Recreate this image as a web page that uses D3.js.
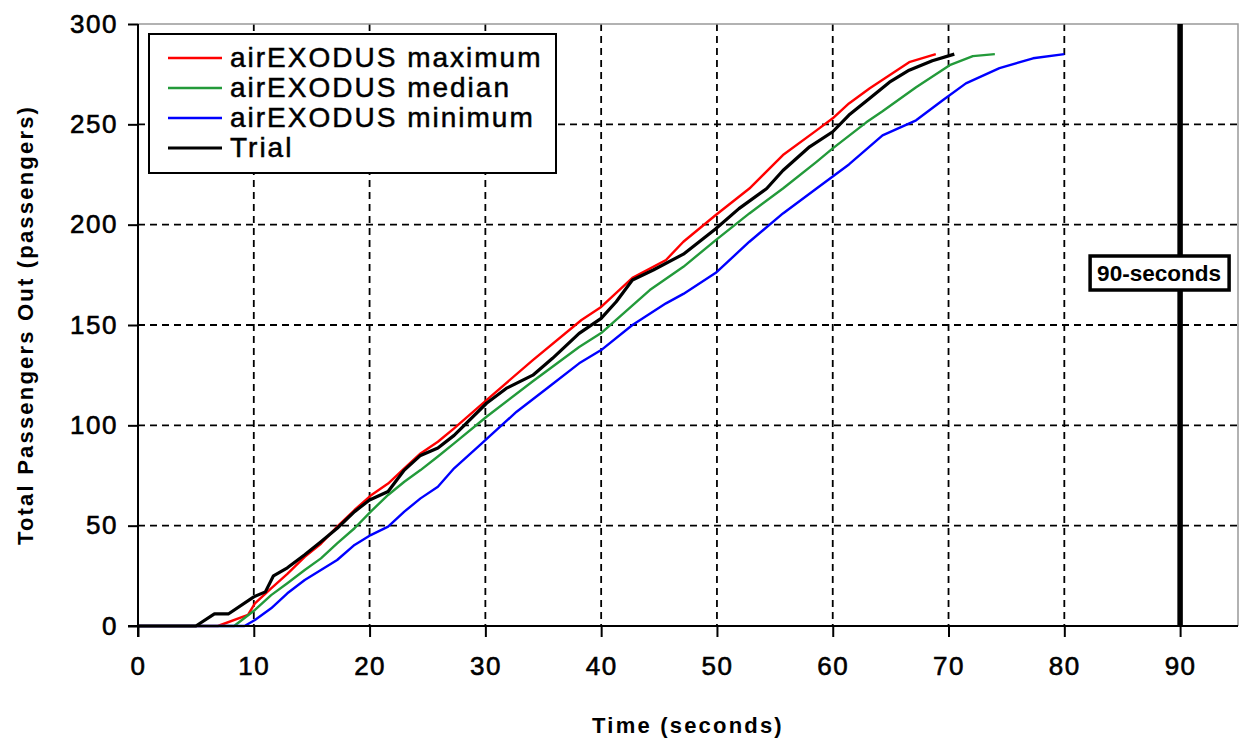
<!doctype html>
<html>
  <head>
    <script src="https://cdnjs.cloudflare.com/ajax/libs/d3/7.8.5/d3.min.js"></script>
    <style>
      body { margin: 0; background: #fff; }
      text { font-family: "Liberation Sans", Arial, sans-serif; fill: #000; }
      .grid line { stroke: #000; stroke-width: 1.8; stroke-dasharray: 7 5; }
      .title { font-size: 22px; font-weight: bold; letter-spacing: 2.2px; }
      .legend text { font-size: 28px; letter-spacing: 2px; stroke: #000; stroke-width: 0.5px; }
    </style>
  </head>
  <body>
    <svg id="chart" width="1239" height="742"></svg>
    <script>
      // values (time in s, passengers out)
      var trialT = [0, 5.0, 6.6, 7.8, 10, 11, 11.7, 12.9, 14.4, 15.8, 17.2, 18.7, 20, 21.6, 23, 24.4, 25.9, 27.3, 30.1, 31.8, 34.1, 35.8, 38.1, 40, 41.3, 42.7, 44.5, 47.1, 49.9, 51.9, 54.3, 55.7, 58, 60, 61.4, 63.2, 64.9, 66.6, 68.6, 70.5];
      var trialV = [0, 0, 6, 6, 14.5, 17, 25, 29, 35.5, 42, 48.7, 57, 62.8, 67, 77.7, 85, 88.7, 95, 111, 118.4, 125, 133.4, 145.8, 153.3, 161.6, 172.4, 177.4, 185.3, 198, 208, 218, 227, 238.8, 246.3, 254.6, 263, 271, 277, 281.7, 285];

      var maxT = [0, 6.9, 9.5, 10.1, 11.5, 12.9, 14.4, 15.8, 17.2, 18.7, 20.1, 21.6, 23, 24.4, 25.9, 27.3, 30.1, 34.1, 38.3, 40, 42.7, 45.6, 47.1, 49.9, 52.8, 55.7, 58.6, 60, 61.4, 63.2, 64.9, 66.6, 68.9];
      var maxV = [0, 0, 5.5, 11.3, 18.8, 26, 34.5, 41, 49.5, 57.8, 65, 71, 78.6, 86, 91.8, 98.5, 112.6, 132.5, 152.5, 159, 173.5, 182.4, 191.5, 204.8, 218, 234.7, 247, 253, 260.4, 268, 274.5, 281, 285];

      var medT = [0, 8.3, 10.1, 11.5, 12.9, 14.4, 15.8, 17.2, 18.7, 20.1, 21.6, 23, 24.4, 25.9, 27.3, 30.1, 34.1, 38.1, 40, 44.2, 47.1, 49.9, 52.8, 55.7, 58.6, 60, 62.9, 64.3, 67.2, 70.1, 72.1, 74];
      var medV = [0, 0, 8, 15.4, 21.3, 27.9, 33.7, 41.2, 48.7, 57, 65.3, 71.9, 77.7, 84.5, 91, 104.3, 122, 139, 146, 167.4, 179, 192.3, 205.6, 218, 231.3, 238, 251, 256.5, 268.5, 279.5, 284, 285];

      var minT = [0, 9.2, 10.1, 11.5, 12.9, 14.4, 15.8, 17.2, 18.7, 20.1, 21.6, 23, 24.4, 25.9, 27.3, 29.5, 32.7, 35.5, 38.1, 40, 42.7, 45.6, 47.1, 49.9, 52.8, 55.7, 58.6, 61.4, 64.3, 67.2, 69.5, 71.5, 74.4, 77.3, 80];
      var minV = [0, 0, 3, 8.8, 16.3, 22.9, 27.9, 32.9, 40.4, 45.3, 49.5, 57, 63.6, 69.4, 78.6, 90, 106.8, 119.2, 130.9, 137.5, 150, 160.8, 165.5, 176, 191.5, 205.6, 218, 230, 244.5, 252, 262, 270.4, 278, 282.9, 285];

      var seriesNames = ["airEXODUS maximum", "airEXODUS median", "airEXODUS minimum", "Trial"];
      var seriesColors = ["#ff0000", "#239a3a", "#0000ff", "#000000"];
      var xTicks = [0, 10, 20, 30, 40, 50, 60, 70, 80, 90];
      var yTicks = [0, 50, 100, 150, 200, 250, 300];
      var limitTime = 90;
      var limitLabel = "90-seconds";

      drawChart();

      function drawChart() {
        var svg = d3.select("#chart");
        var left = 138, right = 1238, plotTop = 24, bottom = 626;

        var x = d3.scaleLinear().domain([0, 95]).range([left, right]);
        var y = d3.scaleLinear().domain([0, 300]).range([bottom, plotTop]);

        // grid
        svg.append("g").attr("class", "grid")
          .selectAll("line").data(xTicks.slice(1)).enter().append("line")
            .attr("x1", d => x(d)).attr("x2", d => x(d))
            .attr("y1", plotTop).attr("y2", bottom);
        svg.append("g").attr("class", "grid")
          .selectAll("line").data(yTicks.slice(1, -1)).enter().append("line")
            .attr("x1", left).attr("x2", right)
            .attr("y1", d => y(d)).attr("y2", d => y(d));

        // frame top / right
        svg.append("path")
          .attr("d", "M" + left + "," + plotTop + "H" + right + "V" + bottom)
          .attr("fill", "none").attr("stroke", "#999").attr("stroke-width", 1.5);

        // series
        var line = d3.line().x(d => x(d[0])).y(d => y(d[1]));
        var series = [
          d3.zip(maxT, maxV), d3.zip(medT, medV), d3.zip(minT, minV), d3.zip(trialT, trialV)
        ];
        svg.append("g").selectAll("path").data(series).enter().append("path")
          .attr("d", line)
          .attr("fill", "none")
          .attr("stroke", (d, i) => seriesColors[i])
          .attr("stroke-width", (d, i) => i == 3 ? 3.2 : 2.4)
          .attr("stroke-linejoin", "round");

        // 90 second line
        svg.append("line")
          .attr("x1", x(limitTime)).attr("x2", x(limitTime))
          .attr("y1", plotTop).attr("y2", bottom)
          .attr("stroke", "#000").attr("stroke-width", 5.5);

        var lab = svg.append("g").attr("transform", "translate(" + x(limitTime) + ",273)");
        lab.append("rect")
          .attr("x", -90).attr("y", -17).attr("width", 139).attr("height", 34)
          .attr("fill", "#fff").attr("stroke", "#000").attr("stroke-width", 3.5);
        lab.append("text")
          .attr("x", -83).attr("y", 8)
          .attr("textLength", 124).attr("lengthAdjust", "spacingAndGlyphs")
          .style("font-size", "22px").style("font-weight", "bold")
          .text(limitLabel);

        // axes
        var xAxis = d3.axisBottom(x).tickValues(xTicks).tickSize(11).tickPadding(20);
        var gx = svg.append("g").attr("transform", "translate(0," + bottom + ")").call(xAxis);
        gx.select(".domain").attr("d", "M" + (left - 10) + ",0H" + right);

        var yAxis = d3.axisLeft(y).tickValues(yTicks).tickSize(10).tickPadding(10);
        var gy = svg.append("g").attr("transform", "translate(" + left + ",0)").call(yAxis);
        gy.select(".domain").attr("d", "M0," + plotTop + "V" + (bottom + 11));

        svg.selectAll(".domain, .tick line").attr("stroke", "#000").attr("stroke-width", 2);
        svg.selectAll(".tick text")
          .attr("font-family", null).attr("font-size", null)
          .style("font-size", "26px").style("letter-spacing", "1.5px")
          .style("fill", "#000").style("stroke", "#000").style("stroke-width", "0.6px");

        // titles
        svg.append("text").attr("class", "title")
          .attr("x", 688).attr("y", 733).attr("text-anchor", "middle")
          .text("Time (seconds)");
        svg.append("text").attr("class", "title")
          .attr("transform", "translate(33,325) rotate(-90)")
          .attr("text-anchor", "middle")
          .text("Total Passengers Out (passengers)");

        // legend
        var lg = svg.append("g").attr("class", "legend");
        lg.append("rect")
          .attr("x", 149).attr("y", 34).attr("width", 407).attr("height", 139)
          .attr("fill", "#fff").attr("stroke", "#000").attr("stroke-width", 2);
        var rows = lg.selectAll("g").data(seriesNames).enter().append("g")
          .attr("transform", (d, i) => "translate(0," + (58 + i * 30) + ")");
        rows.append("line")
          .attr("x1", 168).attr("x2", 222)
          .attr("stroke", (d, i) => seriesColors[i])
          .attr("stroke-width", (d, i) => i == 3 ? 3.2 : 2.4);
        rows.append("text")
          .attr("x", 230).attr("y", 9)
          .text(d => d);
      }
    </script>
  </body>
</html>
